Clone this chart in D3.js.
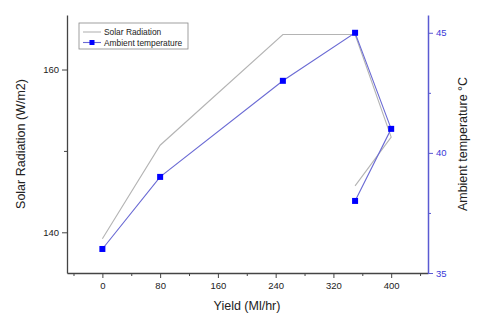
<!DOCTYPE html>
<meta charset="utf-8">
<head>
<style>
html, body {margin:0; padding:0; background:white;}
text {font-family: "Liberation Sans", Arial, sans-serif;}
</style>
</head>
<script src="https://d3js.org/d3.v7.min.js"></script>
<div id="chart"></div>
<script>

// data
var yieldSolar = [0, 80, 250, 350, 400, 350]
var solarRadiation = [139.2, 150.7, 164.3, 164.3, 151.7, 145.7]
var yieldTemp = [0, 80, 250, 350, 400, 350]
var ambientTemp = [36, 39, 43, 45, 41, 38]
var xTicks = [0, 80, 160, 240, 320, 400]
var xMinor = [-40, 40, 120, 200, 280, 360, 440]
var leftTicks = [140, 160]
var leftMinor = [150]
var rightTicks = [35, 40, 45]
var rightMinor = [37.5, 42.5]

var W = 481, H = 327
var margin = {top: 15, right: 53, bottom: 54, left: 67},
  width = W - margin.left - margin.right,
  height = H - margin.top - margin.bottom

var svg = d3.select("#chart").append("svg")
  .attr("width", W).attr("height", H)
  .append("g")
  .attr("transform", "translate(" + margin.left + "," + margin.top + ")")

var x = d3.scaleLinear().domain([-49, 451]).range([0, width])
var yL = d3.scaleLinear().domain([135, 166.7]).range([height, 0])
var yR = d3.scaleLinear().domain([35, 45.74]).range([height, 0])

var axisCol = "#444", blueAxis = "#5a5ad2", blueText = "#3a3ad8"

// minor ticks first
svg.append("g").attr("transform", "translate(0," + height + ")")
  .call(d3.axisBottom(x).tickValues(xMinor).tickSize(3).tickFormat(""))
  .call(function(g){ g.select(".domain").remove(); g.selectAll("line").attr("stroke", axisCol) })
svg.append("g")
  .call(d3.axisLeft(yL).tickValues(leftMinor).tickSize(3).tickFormat(""))
  .call(function(g){ g.select(".domain").remove(); g.selectAll("line").attr("stroke", axisCol) })
svg.append("g").attr("transform", "translate(" + width + ",0)")
  .call(d3.axisRight(yR).tickValues(rightMinor).tickSize(3).tickFormat(""))
  .call(function(g){ g.select(".domain").remove(); g.selectAll("line").attr("stroke", blueAxis) })

// bottom axis
var gx = svg.append("g").attr("transform", "translate(0," + height + ")")
  .call(d3.axisBottom(x).tickValues(xTicks).tickSize(5).tickSizeOuter(0).tickPadding(4))
gx.select(".domain").attr("stroke", axisCol).attr("stroke-width", 1.3)
gx.selectAll("line").attr("stroke", axisCol)
gx.selectAll("text").style("font-size", "9.5px").attr("fill", "#222")

// left axis
var gl = svg.append("g")
  .call(d3.axisLeft(yL).tickValues(leftTicks).tickSize(5).tickSizeOuter(0).tickPadding(3))
gl.select(".domain").attr("stroke", axisCol).attr("stroke-width", 1.3)
gl.selectAll("line").attr("stroke", axisCol)
gl.selectAll("text").style("font-size", "9.5px").attr("fill", "#222")

// right axis
var gr = svg.append("g").attr("transform", "translate(" + width + ",0)")
  .call(d3.axisRight(yR).tickValues(rightTicks).tickSize(5).tickSizeOuter(0).tickPadding(3))
gr.select(".domain").attr("stroke", blueAxis).attr("stroke-width", 1.5)
gr.selectAll("line").attr("stroke", blueAxis)
gr.selectAll("text").style("font-size", "9.5px").attr("fill", blueText)

// solar radiation line
var solarData = yieldSolar.map(function(d, i){ return [d, solarRadiation[i]] })
svg.append("path").datum(solarData)
  .attr("fill", "none").attr("stroke", "#b4b4b4").attr("stroke-width", 1.1)
  .attr("d", d3.line().x(function(d){ return x(d[0]) }).y(function(d){ return yL(d[1]) }))

// ambient temperature line + markers
var tempData = yieldTemp.map(function(d, i){ return [d, ambientTemp[i]] })
svg.append("path").datum(tempData)
  .attr("fill", "none").attr("stroke", "#6a6ad4").attr("stroke-width", 1.1)
  .attr("d", d3.line().x(function(d){ return x(d[0]) }).y(function(d){ return yR(d[1]) }))
svg.selectAll(".mk").data(tempData).enter().append("rect")
  .attr("x", function(d){ return x(d[0]) - 3 })
  .attr("y", function(d){ return yR(d[1]) - 3 })
  .attr("width", 6).attr("height", 6)
  .attr("fill", "#0000ff")

// axis titles
svg.append("text")
  .attr("x", 180)
  .attr("y", 295)
  .attr("text-anchor", "middle").style("font-size", "12.5px").attr("fill", "#222")
  .text("Yield (Ml/hr)")
svg.append("text")
  .attr("transform", "translate(" + (-42) + "," + (height / 2) + ") rotate(-90)")
  .attr("text-anchor", "middle").style("font-size", "12.5px").attr("fill", "#222")
  .text("Solar Radiation (W/m2)")
svg.append("text")
  .attr("transform", "translate(" + (width + 39) + "," + (height / 2) + ") rotate(-90)")
  .attr("text-anchor", "middle").style("font-size", "12.5px").attr("fill", "#222")
  .text("Ambient temperature °C")

// legend
var lg = svg.append("g").attr("transform", "translate(" + (79 - margin.left) + "," + (23 - margin.top) + ")")
lg.append("rect").attr("width", 109).attr("height", 26)
  .attr("fill", "white").attr("stroke", "#888").attr("stroke-width", 0.8)
lg.append("line").attr("x1", 4).attr("x2", 22).attr("y1", 9).attr("y2", 9)
  .attr("stroke", "#b4b4b4").attr("stroke-width", 1.1)
lg.append("text").attr("x", 25).attr("y", 12).style("font-size", "8.4px").attr("fill", "#222")
  .text("Solar Radiation")
lg.append("line").attr("x1", 4).attr("x2", 22).attr("y1", 19.5).attr("y2", 19.5)
  .attr("stroke", "#6a6ad4").attr("stroke-width", 1.1)
lg.append("rect").attr("x", 10.5).attr("y", 17).attr("width", 5).attr("height", 5).attr("fill", "#0000ff")
lg.append("text").attr("x", 25).attr("y", 22.5).style("font-size", "8.4px").attr("fill", "#222")
  .text("Ambient temperature")

</script>
</html>
